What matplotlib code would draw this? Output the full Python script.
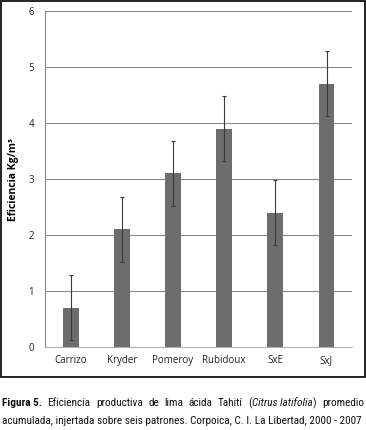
import matplotlib
matplotlib.use("Agg")
import matplotlib.pyplot as plt
from matplotlib.patches import Rectangle

# data
patrones = ["Carrizo", "Kryder", "Pomeroy", "Rubidoux", "SxE", "SxJ"]
eficiencia = [0.7, 2.1, 3.1, 3.9, 2.4, 4.7]
error = [0.58, 0.58, 0.58, 0.58, 0.58, 0.58]
yticks = [0, 1, 2, 3, 4, 5, 6]

cap_line1 = ["Figura 5.", "Eficiencia", "productiva", "de", "lima", "ácida",
             "Tahití", "(Citrus latifolia)", "promedio"]
cap_line2 = "acumulada, injertada sobre seis patrones. Corpoica, C. I. La Libertad, 2000 - 2007"

plt.rcParams["font.family"] = ["Open Sans", "DejaVu Sans"]

fig = plt.figure(figsize=(3.66, 4.30), dpi=100)
ax = fig.add_axes([0.123, 0.193, 0.839, 0.781])

x = range(len(patrones))
ax.bar(x, eficiencia, width=0.31, color="#6d6d6d", zorder=2)
ax.errorbar(x, eficiencia, yerr=error, fmt="none", ecolor="#3a3a3a",
            elinewidth=0.8, capsize=1.5, capthick=0.8, zorder=3)

ax.set_xlim(-0.5, len(patrones) - 0.5)
ax.set_ylim(0, 6)
ax.set_yticks(yticks)
ax.set_xticks(list(x))
ax.set_xticklabels(patrones)
ax.tick_params(length=0, labelsize=7, colors="#222222", pad=6)
ax.tick_params(axis="y", pad=8)
ax.yaxis.grid(True, color="#8a8a8a", linewidth=0.8, zorder=0)
ax.set_axisbelow(True)
for s in ["top", "right"]:
    ax.spines[s].set_visible(False)
ax.spines["left"].set_color("#8a8a8a")
ax.spines["left"].set_linewidth(0.8)
ax.spines["bottom"].set_color("#b0b0b0")
ax.spines["bottom"].set_linewidth(0.8)
ax.set_ylabel("Eficiencia Kg/m³", fontsize=7.5, fontweight="bold", labelpad=7)

# frame around the chart
fig.patches.append(Rectangle((0.003, 0.123), 0.994, 0.874, transform=fig.transFigure,
                             fill=False, edgecolor="#111111", linewidth=1.3))

# caption, justified word by word
cap_font = ["Roboto Condensed", "Roboto", "DejaVu Sans"]
fig.canvas.draw()
renderer = fig.canvas.get_renderer()
x0, x1 = 2, 364
y1, y2 = 430 - 403, 430 - 421

# fit font size so line 2 fills the width
probe = fig.text(0, 0, cap_line2, fontsize=8, family=cap_font, transform=None)
size = 8 * (x1 - x0) / probe.get_window_extent(renderer).width
probe.remove()

pieces = []
for w in cap_line1:
    if w == "Figura 5.":
        pieces.append([(w, "bold", "normal")])
    elif w == "(Citrus latifolia)":
        pieces.append([("(", "normal", "normal"), ("Citrus latifolia", "normal", "italic"),
                       (")", "normal", "normal")])
    else:
        pieces.append([(w, "normal", "normal")])

texts = []
widths = []
for word in pieces:
    parts = []
    wsum = 0
    for s, weight, style in word:
        t = fig.text(0, 0, s, fontsize=size, fontweight=weight, fontstyle=style,
                     family=cap_font, color="#111111", transform=None, va="center")
        bb = t.get_window_extent(renderer)
        parts.append((t, bb.width))
        wsum += bb.width
    texts.append(parts)
    widths.append(wsum)
gap = (x1 - x0 - sum(widths)) / (len(widths) - 1)
cx = x0
for parts, w in zip(texts, widths):
    px = cx
    for t, pw in parts:
        t.set_position((px, y1))
        px += pw
    cx += w + gap

fig.text(x0, y2, cap_line2, fontsize=size, family=cap_font, color="#111111",
         transform=None, va="center")

fig.savefig("out.png", dpi=100)
